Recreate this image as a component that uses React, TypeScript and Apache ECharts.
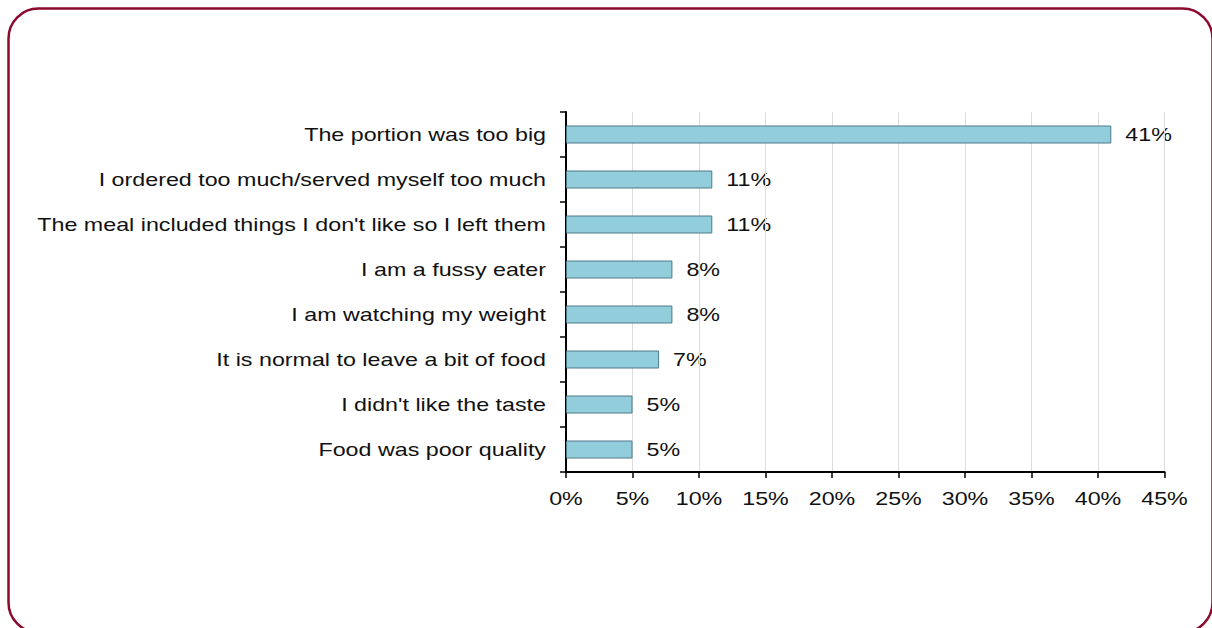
import React, { useEffect, useRef } from "react";
import * as echarts from "echarts";

const categories = [
  "The portion was too big",
  "I ordered too much/served myself too much",
  "The meal included things I don't like so I left them",
  "I am a fussy eater",
  "I am watching my weight",
  "It is normal to leave a bit of food",
  "I didn't like the taste",
  "Food was poor quality",
];
const values = [41, 11, 11, 8, 8, 7, 5, 5];
const xTicks = [0, 5, 10, 15, 20, 25, 30, 35, 40, 45];

export default function App() {
  const ref = useRef<HTMLDivElement>(null);
  useEffect(() => {
    document.body.style.margin = "0";
    const chart = echarts.init(ref.current!, null, { renderer: "svg" });
    const font = "'Liberation Sans', Arial, sans-serif";
    const fontSize = 17.5;
    const sx = 1.33;
    const textColor = "#111";
    const border = {
      type: "rect",
      shape: { x: 8.5, y: 8.5, width: 1204, height: 624, r: 30 },
      style: { fill: "none", stroke: "#8B0A2E", lineWidth: 2.5 },
      silent: true,
    };
    chart.setOption({
      animation: false,
      backgroundColor: "#ffffff",
      graphic: [border],
      grid: { left: 566, right: 47.5, top: 112, bottom: 156, containLabel: false },
      xAxis: {
        type: "value",
        min: xTicks[0],
        max: xTicks[xTicks.length - 1],
        interval: 5,
        axisLine: { show: true, lineStyle: { color: "#000", width: 2 } },
        axisTick: { show: true, length: 6, lineStyle: { color: "#000", width: 1.5 } },
        axisLabel: { show: false },
        splitLine: { show: true, lineStyle: { color: "#dcdcdc", width: 1 } },
      },
      yAxis: {
        type: "category",
        data: categories,
        inverse: true,
        axisLine: { show: true, lineStyle: { color: "#000", width: 2 } },
        axisTick: { show: true, length: 6, lineStyle: { color: "#000", width: 1.5 } },
        axisLabel: { show: false },
        splitLine: { show: false },
      },
      series: [
        {
          type: "bar",
          data: values,
          barWidth: 18,
          itemStyle: { color: "#92CDDC", borderColor: "#4F7A87", borderWidth: 1 },
          label: { show: false },
        },
      ],
    });

    const texts: any[] = [];
    const mk = (text: string, x: number, y: number, align: string) => ({
      type: "text",
      x,
      y,
      scaleX: sx,
      silent: true,
      style: {
        text,
        x: 0,
        y: 0,
        textAlign: align,
        textVerticalAlign: "middle",
        fontFamily: font,
        fontSize,
        fill: textColor,
      },
    });
    const axisX0 = chart.convertToPixel({ xAxisIndex: 0 }, 0) as number;
    categories.forEach((c, i) => {
      const y = chart.convertToPixel({ yAxisIndex: 0 }, i) as number;
      texts.push(mk(c, axisX0 - 20, y, "right"));
      const xe = chart.convertToPixel({ xAxisIndex: 0 }, values[i]) as number;
      texts.push(mk(values[i] + "%", xe + 14, y, "left"));
    });
    const axisY = chart.convertToPixel({ yAxisIndex: 0 }, categories.length - 1) as number;
    const bottomY = axisY + 22.5;
    xTicks.forEach((t) => {
      const x = chart.convertToPixel({ xAxisIndex: 0 }, t) as number;
      texts.push(mk(t + "%", x, bottomY + 27, "center"));
    });
    chart.setOption({ graphic: [border, ...texts] });
    return () => chart.dispose();
  }, []);
  return <div ref={ref} style={{ width: 1212, height: 628 }} />;
}
